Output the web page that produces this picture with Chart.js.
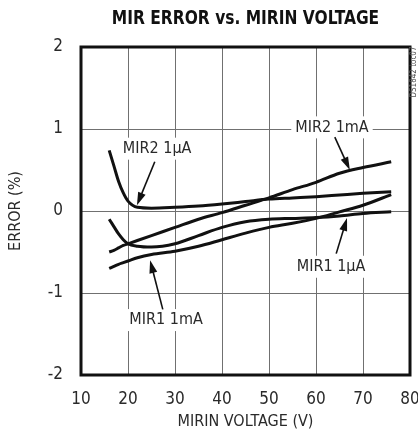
<!DOCTYPE html>
<html>
<head>
<meta charset="utf-8">
<script src="https://cdn.jsdelivr.net/npm/chart.js@4"></script>
<style>
  html, body { margin: 0; padding: 0; background: #fff; }
  #wrap { width: 418px; height: 435px; position: relative; }
</style>
</head>
<body>
<div id="wrap"><canvas id="line-chart"></canvas></div>
<script>
// MIRIN voltage (V), shared by every curve
let voltage = [16, 17, 18, 19, 20, 22, 25, 30, 35, 40, 45, 50, 55, 60, 65, 70, 76];

// error (%)
let mir2_1uA = [0.74, 0.55, 0.36, 0.22, 0.12, 0.045, 0.035, 0.045, 0.06, 0.085, 0.115, 0.145, 0.16, 0.175, 0.195, 0.215, 0.235];
let mir2_1mA = [-0.50, -0.48, -0.45, -0.42, -0.40, -0.36, -0.30, -0.20, -0.10, -0.02, 0.07, 0.16, 0.26, 0.35, 0.46, 0.53, 0.60];
let mir1_1uA = [-0.10, -0.19, -0.28, -0.35, -0.40, -0.43, -0.44, -0.40, -0.30, -0.20, -0.13, -0.10, -0.09, -0.08, -0.06, -0.03, -0.01];
let mir1_1mA = [-0.70, -0.675, -0.65, -0.63, -0.61, -0.57, -0.53, -0.49, -0.43, -0.35, -0.27, -0.20, -0.15, -0.09, -0.01, 0.07, 0.20];

let xTicks = [10, 20, 30, 40, 50, 60, 70, 80];
let yTicks = [-2, -1, 0, 1, 2];

// callout labels: text, label centre, arrow tail, arrow tip (data units)
let labelText = ["MIR2 1\u00b5A", "MIR2 1mA", "MIR1 1\u00b5A", "MIR1 1mA"];
let labelPos = [[26.2, 0.76], [63.4, 1.02], [63.2, -0.68], [28.1, -1.33]];
let arrowFrom = [[25.7, 0.60], [64.0, 0.90], [64.3, -0.52], [27.4, -1.20]];
let arrowTo = [[21.9, 0.07], [67.2, 0.50], [66.6, -0.085], [24.7, -0.60]];

const FONT = "'Liberation Sans Narrow', 'DejaVu Sans Condensed', sans-serif";
const TXT = "#2a2a2a";

let toPoints = function(ys){
    return voltage.map((v, i) => ({x: v, y: ys[i]}));
};

let curve = function(label, ys){
    return {
        label: label,
        data: toPoints(ys),
        borderColor: '#111',
        borderWidth: 3,
        pointRadius: 0,
        fill: false,
        cubicInterpolationMode: 'monotone'
    };
};

const decorations = {
    id: 'decorations',
    afterDatasetsDraw(chart){
        const ctx = chart.ctx;
        const xs = chart.scales.x, ys = chart.scales.y;
        const a = chart.chartArea;
        ctx.save();

        // frame
        ctx.strokeStyle = '#111';
        ctx.lineWidth = 3;
        ctx.strokeRect(a.left, a.top, a.right - a.left, a.bottom - a.top);

        // callouts
        ctx.font = "16px " + FONT;
        ctx.textAlign = 'center';
        ctx.textBaseline = 'middle';
        for(let i = 0; i < labelText.length; i++){
            let cx = xs.getPixelForValue(labelPos[i][0]);
            let cy = ys.getPixelForValue(labelPos[i][1]);
            let w = ctx.measureText(labelText[i]).width + 8;
            ctx.fillStyle = '#fff';
            ctx.fillRect(cx - w/2, cy - 11, w, 22);
            ctx.fillStyle = TXT;
            ctx.fillText(labelText[i], cx, cy);

            let x1 = xs.getPixelForValue(arrowFrom[i][0]), y1 = ys.getPixelForValue(arrowFrom[i][1]);
            let x2 = xs.getPixelForValue(arrowTo[i][0]), y2 = ys.getPixelForValue(arrowTo[i][1]);
            let ang = Math.atan2(y2 - y1, x2 - x1);
            let hl = 13, hw = 4;
            ctx.strokeStyle = '#111';
            ctx.lineWidth = 1.6;
            ctx.beginPath();
            ctx.moveTo(x1, y1);
            ctx.lineTo(x2 - Math.cos(ang) * hl * 0.8, y2 - Math.sin(ang) * hl * 0.8);
            ctx.stroke();
            ctx.fillStyle = '#111';
            ctx.beginPath();
            ctx.moveTo(x2, y2);
            ctx.lineTo(x2 - Math.cos(ang) * hl - Math.sin(ang) * hw, y2 - Math.sin(ang) * hl + Math.cos(ang) * hw);
            ctx.lineTo(x2 - Math.cos(ang) * hl + Math.sin(ang) * hw, y2 - Math.sin(ang) * hl - Math.cos(ang) * hw);
            ctx.closePath();
            ctx.fill();
        }

        // title (squeezed a little to look like a condensed face)
        ctx.save();
        ctx.fillStyle = '#111';
        ctx.font = "bold 20px " + FONT;
        ctx.translate((a.left + a.right) / 2, 19);
        ctx.scale(0.86, 1);
        ctx.fillText("MIR ERROR vs. MIRIN VOLTAGE", 0, 0);
        ctx.restore();

        // side tag
        ctx.translate(a.right + 4, 72);
        ctx.rotate(-Math.PI / 2);
        ctx.font = "8px " + FONT;
        ctx.fillStyle = '#555';
        ctx.fillText("DS1842 toc07", 0, 0);
        ctx.restore();
    }
};

const config = {
    type: 'line',
    data: {
        datasets: [
            curve('MIR2 1\u00b5A', mir2_1uA),
            curve('MIR2 1mA', mir2_1mA),
            curve('MIR1 1\u00b5A', mir1_1uA),
            curve('MIR1 1mA', mir1_1mA)
        ]
    },
    options: {
        responsive: false,
        animation: false,
        layout: { padding: { top: 47, right: 8, left: 0, bottom: 0 } },
        plugins: { legend: { display: false }, tooltip: { enabled: false } },
        scales: {
            x: {
                type: 'linear', min: 10, max: 80,
                afterBuildTicks: s => { s.ticks = xTicks.map(v => ({value: v})); },
                afterFit: s => { s.height = 60; s.paddingLeft = 0; s.paddingRight = 0; },
                grid: { color: '#707070', lineWidth: 1, drawTicks: false },
                border: { display: false },
                ticks: { padding: 14, color: TXT, font: { family: FONT, size: 17 } },
                title: { display: true, text: 'MIRIN VOLTAGE (V)', color: TXT, padding: { top: 0, bottom: 4 }, font: { family: FONT, size: 16 } }
            },
            y: {
                type: 'linear', min: -2, max: 2,
                afterBuildTicks: s => { s.ticks = yTicks.map(v => ({value: v})); },
                afterFit: s => { s.width = 81; s.paddingTop = 0; s.paddingBottom = 0; },
                grid: { color: '#707070', lineWidth: 1, drawTicks: false },
                border: { display: false },
                ticks: { padding: 18, color: TXT, font: { family: FONT, size: 17 } },
                title: { display: true, text: 'ERROR (%)', color: TXT, padding: { top: 6, bottom: 0 }, font: { family: FONT, size: 16 } }
            }
        }
    },
    plugins: [decorations]
};

let canvas = document.querySelector('#line-chart');
canvas.width = 418;
canvas.height = 435;
new Chart(canvas, config);
</script>
</body>
</html>
